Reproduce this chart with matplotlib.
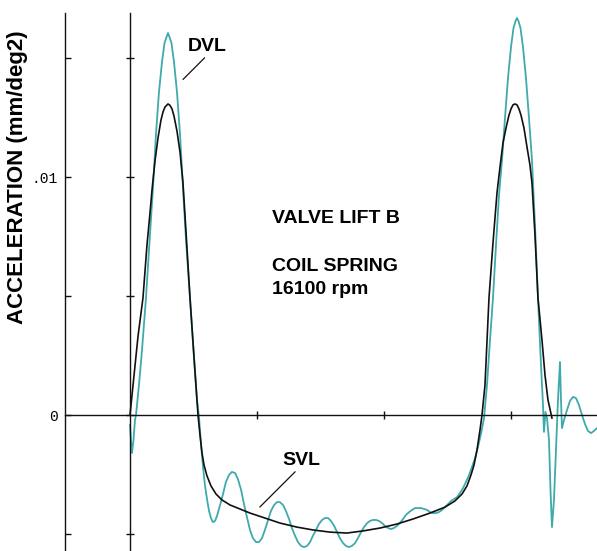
import matplotlib
matplotlib.use('Agg')
import matplotlib.pyplot as plt

# cam angle (deg) / acceleration (mm/deg2)
# SVL = static (black), DVL = dynamic (teal)
svl_x = [0.0, 1.26, 2.52, 4.09, 5.35, 6.30, 6.93, 7.87, 8.82, 9.76, 10.39, 11.02,
         11.97, 12.60, 13.23, 13.86, 14.80, 15.75, 16.69, 17.64, 18.90, 20.16,
         21.42, 22.05, 22.68, 23.31, 24.25, 25.51, 27.09, 28.98, 31.50, 34.65,
         37.80, 42.52, 47.24, 52.60, 57.64, 62.99, 68.35, 73.39, 78.74, 84.09,
         89.13, 94.49, 99.21, 102.36, 104.57, 106.14, 107.40, 108.35, 109.29,
         110.24, 110.87, 111.81, 113.07, 114.33, 115.59, 116.54, 117.48, 118.43,
         119.37, 120.00, 120.63, 121.26, 121.89, 122.52, 123.15, 124.09, 125.04,
         125.98, 126.61, 127.56, 128.50, 129.76, 130.71, 131.65, 132.91]
svl_y = [0.0, 0.00165, 0.00330, 0.00492, 0.00714, 0.00849, 0.00945, 0.01067,
         0.01164, 0.01239, 0.01273, 0.01294, 0.01307, 0.01301, 0.01286, 0.01256,
         0.01193, 0.01105, 0.00975, 0.00769, 0.00492, 0.00244, 0.0, -0.00084,
         -0.0016, -0.0021, -0.00256, -0.00298, -0.00332, -0.00357, -0.00378,
         -0.00395, -0.00412, -0.00433, -0.00454, -0.00471, -0.00483, -0.00492,
         -0.00496, -0.00487, -0.00475, -0.00458, -0.00437, -0.00412, -0.00387,
         -0.00361, -0.00332, -0.00298, -0.00252, -0.0021, -0.00147, -0.00063, 0.0,
         0.00126, 0.00492, 0.00723, 0.00933, 0.01042, 0.01143, 0.01206, 0.0126,
         0.01286, 0.01303, 0.01307, 0.01303, 0.01286, 0.0126, 0.01206, 0.01126,
         0.0105, 0.00975, 0.00756, 0.00492, 0.00315, 0.00168, 0.00063, -0.00013]

dvl_x = [0.0, 0.31, 0.63, 1.10, 1.57, 1.89, 2.83, 3.78, 5.04, 5.98, 7.24, 8.19,
         9.13, 10.08, 10.87, 11.50, 11.97, 12.44, 13.07, 13.86, 14.80, 15.75, 16.69,
         17.64, 18.90, 20.16, 21.10, 21.73, 22.4, 23.0, 23.6, 24.3, 24.9, 25.5,
         26.1, 26.8, 27.4, 28.3, 29.3, 30.2, 31.2, 32.1, 33.1, 34.0, 35.0, 35.9,
         36.9, 37.8, 38.7, 39.7, 40.6, 41.6, 42.5, 43.5, 44.4, 45.4, 46.3, 47.2,
         48.2, 49.1, 50.1, 51.0, 52.0, 52.9, 53.9, 54.8, 55.8, 56.7, 57.6, 58.6,
         59.5, 60.5, 61.4, 62.4, 63.3, 64.3, 65.2, 66.1, 67.1, 68.0, 69.0, 69.9,
         70.9, 71.8, 72.8, 73.7, 74.7, 75.6, 76.5, 77.5, 78.4, 79.4, 80.3, 81.3,
         82.2, 83.1, 84.1, 85.0, 86.0, 86.9, 87.9, 88.8, 89.8, 90.7, 91.7, 92.6,
         93.6, 94.5, 95.4, 96.4, 97.3, 98.3, 99.2, 100.2, 101.1, 102.1, 103.0,
         103.9, 104.9, 105.8, 106.8, 107.7, 108.7, 109.6, 110.6, 111.50, 112.44,
         113.39, 114.33, 115.28, 116.22, 117.17, 118.11, 119.06, 120.00, 120.79,
         121.42, 121.89, 122.36, 122.99, 123.78, 124.72, 125.67, 126.61, 127.56,
         128.50, 129.45, 130.08, 130.39, 130.87, 131.34, 131.97, 132.44, 132.91,
         133.54, 134.17, 134.80, 135.43, 135.75, 136.06, 136.69, 137.64, 138.58,
         139.53, 140.47, 141.42, 142.36, 143.31, 144.25, 145.20, 146.14, 147.09]
dvl_y = [-0.00042, -0.00105, -0.0016, -0.00105, -0.00021, 0.0, 0.00126, 0.00273,
         0.00492, 0.00693, 0.00954, 0.01181, 0.01357, 0.01483, 0.01563, 0.01588,
         0.01605, 0.01588, 0.01563, 0.01483, 0.01357, 0.01181, 0.00954, 0.00735,
         0.00492, 0.0024, 0.00063, -0.00008, -0.00126, -0.00218, -0.00294,
         -0.00357, -0.00403, -0.00433, -0.0045, -0.00445, -0.00424, -0.00382,
         -0.00332, -0.00282, -0.00252, -0.00239, -0.00244, -0.00269, -0.00315,
         -0.00374, -0.00433, -0.00483, -0.00517, -0.00534, -0.00534, -0.00517,
         -0.00483, -0.00441, -0.00403, -0.00378, -0.00366, -0.00366, -0.00378,
         -0.00403, -0.00437, -0.00475, -0.00508, -0.00534, -0.0055, -0.00555,
         -0.0055, -0.00534, -0.00508, -0.00483, -0.00458, -0.00441, -0.00433,
         -0.00433, -0.00445, -0.00466, -0.00492, -0.00517, -0.00538, -0.0055,
         -0.00555, -0.0055, -0.00538, -0.00517, -0.00492, -0.00471, -0.00454,
         -0.00445, -0.00441, -0.00441, -0.00445, -0.00454, -0.00466, -0.00475,
         -0.00479, -0.00475, -0.00466, -0.00454, -0.00437, -0.0042, -0.00408,
         -0.00399, -0.00391, -0.00391, -0.00391, -0.00395, -0.00399, -0.00408,
         -0.00412, -0.00412, -0.00408, -0.00399, -0.00387, -0.00374, -0.00361,
         -0.00353, -0.00345, -0.00328, -0.00307, -0.00282, -0.00252, -0.00218,
         -0.00181, -0.00134, -0.00076, -0.00013, 0.00126, 0.00315, 0.00492,
         0.00714, 0.00924, 0.01071, 0.01248, 0.01416, 0.01546, 0.01626, 0.01655,
         0.01668, 0.01655, 0.01626, 0.01546, 0.01416, 0.01248, 0.01071, 0.00798,
         0.00492, 0.0021, 0.00042, -0.00071, 0.00013, -0.00013, -0.00105, -0.00315,
         -0.00471, -0.00357, -0.00147, 0.00063, 0.00223, 0.00063, -0.00055,
         -0.00021, 0.00021, 0.00059, 0.00076, 0.00071, 0.00042, 0.0, -0.00038,
         -0.00067, -0.00076, -0.00067, -0.00055]

y_ticks = [-0.005, 0.0, 0.005, 0.01, 0.015]
y_labels = ['', '0', '', '.01', '']
x_ticks = [40, 80, 120]
x_lim = (-20.47, 147.09)
y_lim = (-0.005714, 0.016891)

plt.rcParams['font.family'] = ['Liberation Sans', 'DejaVu Sans']

fig = plt.figure(figsize=(5.97, 5.51), dpi=100)
pos = [65 / 597, 0, 532 / 597, 538 / 551]

# outer labelled axis (drawn first, underneath)
ax0 = fig.add_axes(pos)
ax0.set_ylim(*y_lim)
for s in ['top', 'right', 'bottom']:
    ax0.spines[s].set_visible(False)
ax0.spines['left'].set_linewidth(1.0)
ax0.spines['left'].set_color('#111111')
ax0.set_xticks([])
ax0.set_yticks(y_ticks)
ax0.set_yticklabels(y_labels, family='Liberation Mono', fontsize=10.5)
ax0.tick_params(axis='y', direction='in', length=4.3, width=1.0, pad=5, color='#111111')

# inner axes crossing at zero
ax = fig.add_axes(pos)
ax.patch.set_visible(False)
ax.set_xlim(*x_lim)
ax.set_ylim(*y_lim)
for s in ['top', 'right']:
    ax.spines[s].set_visible(False)
ax.spines['left'].set_position(('data', 0))
ax.spines['bottom'].set_position(('data', 0))
for s in ['left', 'bottom']:
    ax.spines[s].set_linewidth(1.0)
    ax.spines[s].set_color('#111111')
ax.set_yticks(y_ticks)
ax.set_yticklabels([])
ax.set_xticks(x_ticks)
ax.set_xticklabels([])
ax.tick_params(direction='inout', length=6, width=1.0, color='#111111')

ax.plot(dvl_x, dvl_y, color='#3faaab', lw=1.3)
ax.plot(svl_x, svl_y, color='#111111', lw=1.2)

fig.text(18 / 597, 1 - 177 / 551, 'ACCELERATION (mm/deg2)', rotation=90,
         ha='center', va='center', fontsize=16, fontweight='bold')

ax.text(44.7, 0.008067, 'VALVE LIFT B', fontsize=14, fontweight='bold', va='baseline')
ax.text(44.7, 0.00605, 'COIL SPRING', fontsize=14, fontweight='bold', va='baseline')
ax.text(44.7, 0.005084, '16100 rpm', fontsize=14, fontweight='bold', va='baseline')

ax.annotate('DVL', xy=(16.7, 0.0141), xytext=(18.27, 0.015294), fontsize=14,
            fontweight='bold', va='baseline',
            arrowprops=dict(arrowstyle='-', color='#111111', lw=0.9,
                            shrinkA=0, shrinkB=0, relpos=(0.5, 0)))
ax.annotate('SVL', xy=(40.9, -0.003866), xytext=(47.87, -0.0021), fontsize=14,
            fontweight='bold', va='baseline',
            arrowprops=dict(arrowstyle='-', color='#111111', lw=0.9,
                            shrinkA=0, shrinkB=0, relpos=(0.42, 0)))

fig.savefig('out.png', dpi=100)
